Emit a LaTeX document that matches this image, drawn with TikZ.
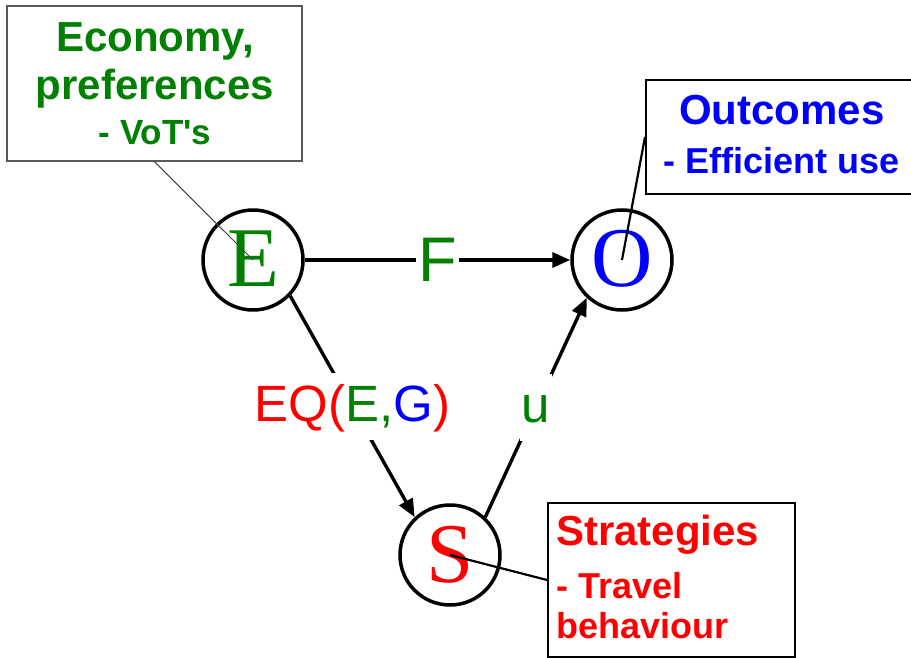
\documentclass[tikz,border=0pt]{standalone}
\usepackage{fontspec}
\setmainfont{Liberation Serif}
\newfontfamily\arial{Liberation Sans}
\usetikzlibrary{arrows.meta}
\definecolor{ggreen}{RGB}{0,128,0}
\definecolor{bblue}{RGB}{0,0,255}
\definecolor{rred}{RGB}{255,0,0}

\begin{document}
\begin{tikzpicture}[x=1pt,y=-1pt,
  state/.style={circle,draw=black,line width=3.5pt,minimum size=100pt,inner sep=0pt,
    font=\fontsize{85}{85}\selectfont},
  infobox/.style={rectangle,draw=black,line width=2pt,fill=white,inner sep=0pt},
  flow/.style={line width=3.4pt,-{Triangle[length=18pt,width=15pt]}},
  edgelabel/.style={fill=white,inner xsep=2pt,inner ysep=9pt,text height=39.5pt,text depth=9.5pt,
    font=\arial\fontsize{51}{51}\selectfont},
  bigtext/.style={anchor=base,inner sep=0pt,font=\arial\bfseries\fontsize{42}{42}\selectfont},
  smalltext/.style={anchor=base,inner sep=0pt,font=\arial\bfseries\fontsize{36}{36}\selectfont},
  pointer/.style={line width=2.2pt,black}
]
\clip (0,0) rectangle (911,658);

% the three states
\node[state,text=ggreen] (E) at (253,260) {\raisebox{3pt}{E}};
\node[state,text=bblue]  (O) at (622,260) {\raisebox{3pt}{O}};
\node[state,text=rred]   (S) at (450,555) {\raisebox{2pt}{S}};

% transitions between the states
\draw[flow] (E) -- node[fill=white,inner xsep=2pt,inner ysep=0pt,text=ggreen,
    font=\arial\fontsize{63}{63}\selectfont] (F) {F} (O);
\draw[flow] (E.-44) -- node[pos=0.5,edgelabel] (eq)
    {\textcolor{rred}{EQ(}\textcolor{ggreen}{E,}\textcolor{bblue}{G}\textcolor{rred}{)}} (S.133);
\draw[flow] (S.47) -- node[pos=0.5,edgelabel,text=ggreen] (u) {u} (O.227);

% explanatory boxes
\node[infobox,draw=black!65,line width=1.3pt,minimum width=295pt,minimum height=155pt] (box1) at (154.5,83.5) {};
\node[bigtext,text=ggreen] (t1a) at (155,52) {Economy,};
\node[bigtext,text=ggreen] (t1b) at (155,100) {preferences};
\node[smalltext,text=ggreen,font=\arial\bfseries\fontsize{35}{35}\selectfont] (t1c) at (155,145) {- VoT's};

\node[infobox,minimum width=272pt,minimum height=114pt] (box2) at (782,137) {};
\node[bigtext,text=bblue] (t2a) at (782,125) {Outcomes};
\node[smalltext,text=bblue] (t2b) at (782,174) {- Efficient use};

\node[infobox,minimum width=247pt,minimum height=154pt] (box3) at (671.5,580) {};
\node[bigtext,anchor=base west,text=rred] (t3a) at (556,545) {Strategies};
\node[smalltext,anchor=base west,text=rred] (t3b) at (556,598) {- Travel};
\node[smalltext,anchor=base west,text=rred] (t3c) at (556,638) {behaviour};

% pointers from the boxes into the states
\draw[line width=1pt,black!75] (box1.south) -- (E.center);
\draw[pointer] (box2.west) -- (O.center);
\draw[pointer] (S.center) -- (box3.west);
\end{tikzpicture}
\end{document}
